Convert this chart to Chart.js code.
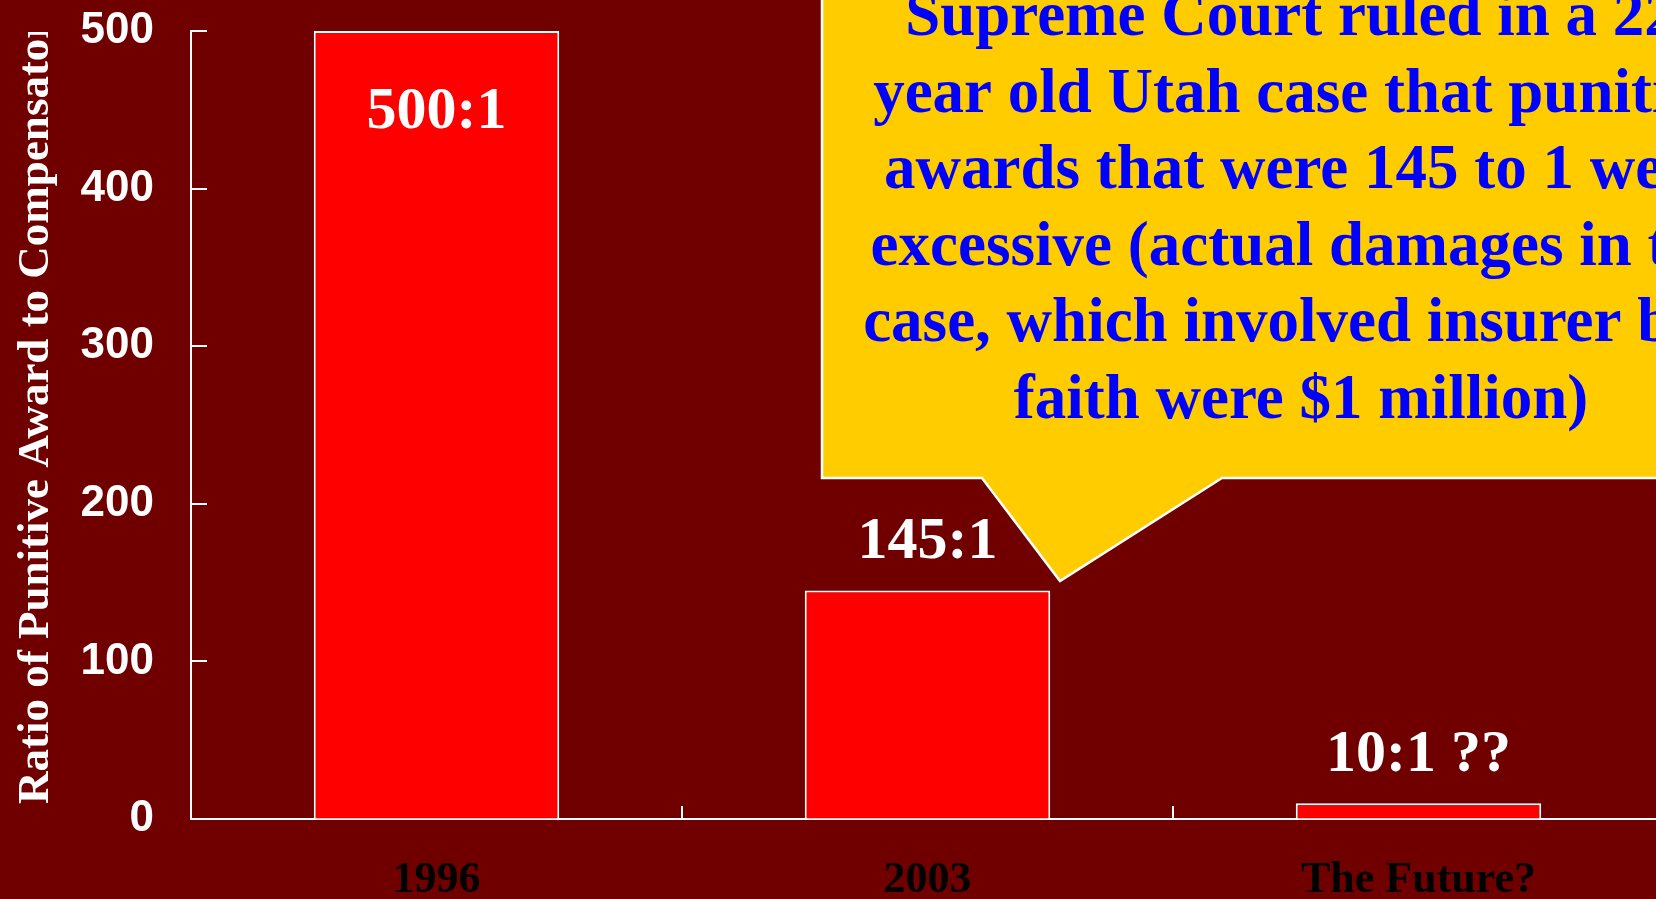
<!DOCTYPE html>
<html>
<head>
<meta charset="utf-8">
<script src="https://cdn.jsdelivr.net/npm/chart.js@4.4.1/dist/chart.umd.min.js"></script>
<style>
  html, body { margin: 0; padding: 0; overflow: hidden; background: #700000; }
</style>
</head>
<body>
<canvas id="ratioChart" width="1664" height="899"></canvas>
<script>
// data
const years = ["1996", "2003", "The Future?"];
const ratios = [500, 145, 10];
const ratioLabels = ["500:1", "145:1", "10:1 ??"];
const yTitle = "Ratio of Punitive Award to Compensatory Damages";
const calloutLines = [
  "Supreme Court ruled in a 22-",
  "year old Utah case that punitive",
  "awards that were 145 to 1 were",
  "excessive (actual damages in the",
  "case, which involved insurer bad",
  "faith were $1 million)"
];

const serif = '"Liberation Serif", "Times New Roman", serif';
const sans = '"Liberation Sans", Arial, sans-serif';

//! background
const bgPlugin = {
  id: "bg",
  beforeDraw(chart) {
    const ctx = chart.ctx;
    ctx.save();
    ctx.fillStyle = "#700000";
    ctx.fillRect(0, 0, chart.width, chart.height);
    ctx.restore();
  }
};

//! inward ticks, bar labels, axis title, callout
const extrasPlugin = {
  id: "extras",
  afterDraw(chart) {
    const ctx = chart.ctx;
    const area = chart.chartArea;
    const x = chart.scales.x;
    const y = chart.scales.y;

    // tick marks pointing into the plot
    ctx.save();
    ctx.strokeStyle = "#ffffff";
    ctx.lineWidth = 2;
    y.ticks.forEach((t) => {
      const py = Math.round(y.getPixelForValue(t.value));
      ctx.beginPath();
      ctx.moveTo(area.left, py);
      ctx.lineTo(area.left + 16, py);
      ctx.stroke();
    });
    for (let i = 0; i < years.length; i++) {
      const px = Math.round(x.getPixelForValue(i + 0.5));
      ctx.beginPath();
      ctx.moveTo(px, area.bottom);
      ctx.lineTo(px, area.bottom - 13);
      ctx.stroke();
    }
    ctx.restore();

    // ratio labels
    const meta = chart.getDatasetMeta(0);
    ctx.save();
    ctx.fillStyle = "#ffffff";
    ctx.font = "bold 60px " + serif;
    ctx.textAlign = "center";
    ctx.textBaseline = "alphabetic";
    meta.data.forEach((bar, i) => {
      const inside = ratios[i] > 250;
      const ty = inside ? bar.y + 97 : bar.y - 32;
      ctx.fillText(ratioLabels[i], bar.x, ty);
    });
    ctx.restore();

    // y axis title (clipped at top like the slide)
    ctx.save();
    ctx.beginPath();
    ctx.rect(0, 32, area.left - 60, chart.height);
    ctx.clip();
    ctx.translate(48, 804);
    ctx.rotate(-Math.PI / 2);
    ctx.fillStyle = "#ffffff";
    ctx.font = "bold 45px " + serif;
    ctx.textAlign = "left";
    ctx.textBaseline = "alphabetic";
    ctx.fillText(yTitle, 0, 0);
    ctx.restore();

    // callout box
    ctx.save();
    ctx.beginPath();
    ctx.moveTo(822, -10);
    ctx.lineTo(822, 478);
    ctx.lineTo(982, 478);
    ctx.lineTo(1060, 581);
    ctx.lineTo(1222, 478);
    ctx.lineTo(1790, 478);
    ctx.lineTo(1790, -10);
    ctx.closePath();
    ctx.fillStyle = "#FFCC00";
    ctx.fill();
    ctx.strokeStyle = "#ffffff";
    ctx.lineWidth = 2.5;
    ctx.stroke();

    ctx.fillStyle = "#0000FF";
    ctx.font = "bold 63px " + serif;
    ctx.textAlign = "center";
    ctx.textBaseline = "alphabetic";
    calloutLines.forEach((line, i) => {
      ctx.fillText(line, 1301, 35 + i * 76.6);
    });
    ctx.restore();
  }
};

new Chart(document.getElementById("ratioChart"), {
  type: "bar",
  data: {
    labels: years,
    datasets: [
      {
        data: ratios,
        backgroundColor: "#FF0000",
        borderColor: "#FFFFFF",
        borderWidth: 2,
        barPercentage: 0.5,
        categoryPercentage: 1
      }
    ]
  },
  options: {
    responsive: false,
    animation: false,
    layout: {
      padding: { top: 31, right: 0, bottom: 0, left: 0 }
    },
    plugins: {
      legend: { display: false },
      tooltip: { enabled: false }
    },
    scales: {
      x: {
        offset: true,
        grid: { drawOnChartArea: false, drawTicks: false },
        border: { color: "#ffffff", width: 2 },
        ticks: {
          color: "#000000",
          padding: 35,
          font: { family: serif, size: 44, weight: "bold" }
        },
        afterFit(scale) {
          scale.height = 80;
          scale.paddingLeft = 0;
          scale.paddingRight = 0;
        }
      },
      y: {
        min: 0,
        max: 500,
        grid: { drawOnChartArea: false, drawTicks: false },
        border: { color: "#ffffff", width: 2 },
        ticks: {
          stepSize: 100,
          color: "#ffffff",
          padding: 37,
          font: { family: sans, size: 44, weight: "bold" }
        },
        afterFit(scale) {
          scale.width = 191;
          scale.paddingTop = 0;
          scale.paddingBottom = 0;
        }
      }
    }
  },
  plugins: [bgPlugin, extrasPlugin]
});
</script>
</body>
</html>
